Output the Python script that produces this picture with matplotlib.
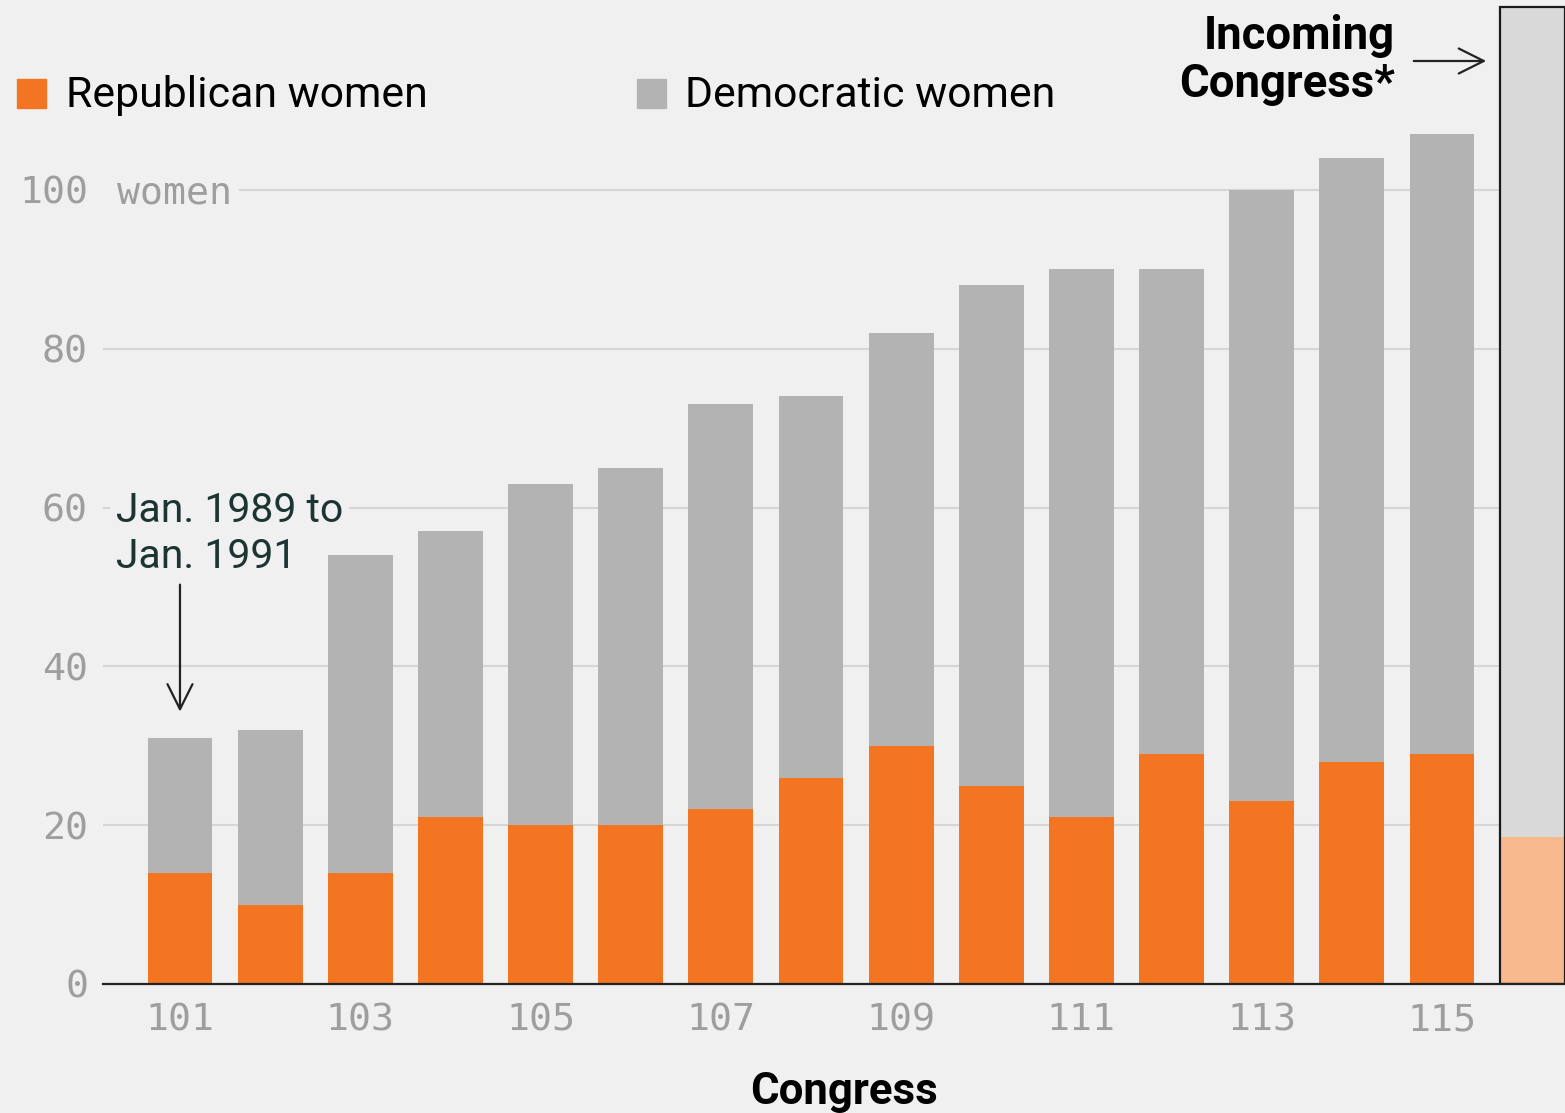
import matplotlib
matplotlib.use("Agg")
import matplotlib.pyplot as plt
from matplotlib.patches import Rectangle, FancyArrowPatch

# ---------------- data ----------------
congress = [101, 102, 103, 104, 105, 106, 107, 108, 109, 110, 111, 112, 113, 114, 115]
republican = [14, 10, 14, 21, 20, 20, 22, 26, 30, 25, 21, 29, 23, 28, 29]
total_women = [31, 32, 54, 57, 63, 65, 73, 74, 82, 88, 90, 90, 100, 104, 107]
democratic = [t - r for t, r in zip(total_women, republican)]

incoming_congress = 116
incoming_republican = 18.5
incoming_total = 123
incoming_democratic = incoming_total - incoming_republican

xtick_positions = [101, 103, 105, 107, 109, 111, 113, 115]
xtick_labels = ["101", "103", "105", "107", "109", "111", "113", "115"]
ytick_values = [0, 20, 40, 60, 80, 100]
ytick_labels = ["0", "20", "40", "60", "80", "100"]

# ---------------- style ----------------
BG = "#f0f0f0"
ORANGE = "#f47521"
GREY = "#b3b3b3"
LIGHT_ORANGE = "#f9b98f"
LIGHT_GREY = "#d9d9d9"
GRID = "#d6d6d6"
TICK = "#9e9e9e"
SANS = ["Roboto", "DejaVu Sans"]
MONO = ["DejaVu Sans Mono"]

W, H = 1565, 1113
fig = plt.figure(figsize=(W / 100, H / 100), dpi=100, facecolor=BG)
ax = fig.add_axes([103 / W, (H - 984) / H, (W - 103) / W, 984 / H])
ax.set_facecolor(BG)
ax.set_xlim(100.146, 116.365)
ax.set_ylim(0, 984 / 7.94)

# gridlines
for v in ytick_values[1:-1]:
    ax.axhline(v, color=GRID, lw=1.5, zorder=0)
ax.axhline(ytick_values[-1], xmin=(240 - 103) / (W - 103), color=GRID, lw=1.5, zorder=0)

# bars
bw = 0.72
ax.bar(congress, republican, width=bw, color=ORANGE, zorder=2, linewidth=0)
ax.bar(congress, democratic, width=bw, bottom=republican, color=GREY, zorder=2, linewidth=0)
ax.bar([incoming_congress], [incoming_republican], width=bw, color=LIGHT_ORANGE, zorder=2, linewidth=0)
ax.bar([incoming_congress], [incoming_democratic], width=bw, bottom=[incoming_republican],
       color=LIGHT_GREY, zorder=2, linewidth=0)
ax.bar([incoming_congress], [incoming_total], width=bw, facecolor="none",
       edgecolor="#1a1a1a", linewidth=1.6, zorder=3)

# spines & ticks
for s in ["left", "right", "top"]:
    ax.spines[s].set_visible(False)
ax.spines["bottom"].set_color("#222222")
ax.spines["bottom"].set_linewidth(1.6)
ax.spines["bottom"].set_zorder(4)

ax.set_xticks(xtick_positions, xtick_labels)
ax.set_yticks(ytick_values, ytick_labels)
ax.tick_params(length=0)
ax.tick_params(axis="x", pad=13)
ax.tick_params(axis="y", pad=10.8)
for lab in ax.get_xticklabels() + ax.get_yticklabels():
    lab.set_fontfamily(MONO)
    lab.set_fontsize(27.5)
    lab.set_color(TICK)

ax.text((117 - 103) / (W - 103), 100, "women", transform=ax.get_yaxis_transform(),
        fontfamily=MONO, fontsize=27.5, color=TICK, va="center_baseline", ha="left")

# x label
fig.text(844 / W, (H - 1104) / H, "Congress", ha="center", va="baseline",
         fontfamily=SANS, fontweight="bold", fontsize=31.5, color="black")

# legend
fig.patches.append(Rectangle((17 / W, (H - 108) / H), 29 / W, 29 / H,
                             transform=fig.transFigure, color=ORANGE))
fig.text(66 / W, (H - 107) / H, "Republican women", ha="left", va="baseline",
         fontfamily=SANS, fontsize=30.8, color="black")
fig.patches.append(Rectangle((637 / W, (H - 108) / H), 29 / W, 29 / H,
                             transform=fig.transFigure, color=GREY))
fig.text(685 / W, (H - 107) / H, "Democratic women", ha="left", va="baseline",
         fontfamily=SANS, fontsize=30.8, color="black")

# incoming congress label
fig.text(1395 / W, (H - 49) / H, "Incoming", ha="right", va="baseline",
         fontfamily=SANS, fontweight="bold", fontsize=32.8, color="black")
fig.text(1395 / W, (H - 97) / H, "Congress*", ha="right", va="baseline",
         fontfamily=SANS, fontweight="bold", fontsize=32.8, color="black")
fig.add_artist(FancyArrowPatch(
    (1411 / W, (H - 61) / H), (1489 / W, (H - 61) / H), transform=fig.transFigure,
    arrowstyle="->,head_length=0.9,head_width=0.45", mutation_scale=20,
    color="#222222", lw=1.6))

# Jan annotation (below the bars, above gridlines)
ax.text(116 / W, (H - 491) / H, "Jan. 1989 to\nJan. 1991", ha="left", va="top",
        transform=fig.transFigure, zorder=1,
        fontfamily=SANS, fontsize=29.5, color="#1c3533", linespacing=1.24,
        bbox=dict(boxstyle="square,pad=0.15", facecolor=BG, edgecolor="none"))
ax.annotate("", xy=(congress[0], total_women[0] + 3.3), xytext=(congress[0], 50.3),
            arrowprops=dict(arrowstyle="->,head_length=0.9,head_width=0.45",
                            mutation_scale=20, color="#222222", lw=1.6,
                            shrinkA=0, shrinkB=0))

fig.savefig("out.png", dpi=100, facecolor=BG)
